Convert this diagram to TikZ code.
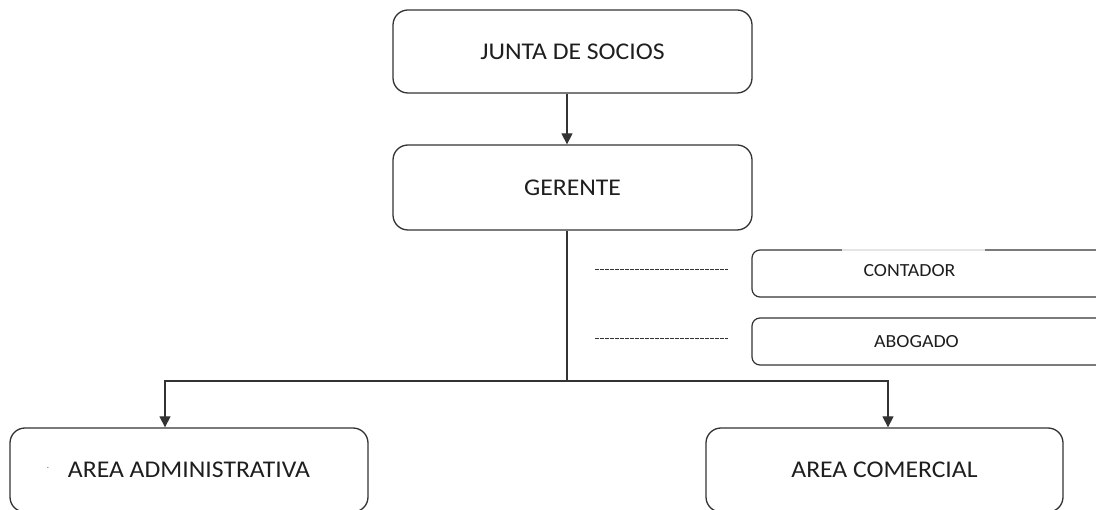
\documentclass[tikz,border=0pt]{standalone}
\usepackage{fontspec}
\setmainfont{Carlito}[FakeStretch=1.07]
\usetikzlibrary{arrows.meta}
\definecolor{ln}{HTML}{333333}
\definecolor{tx}{HTML}{1E1E1E}
\tikzset{
  bigbox/.style={draw=ln, line width=1.3pt, rounded corners=15pt, minimum width=359pt, inner sep=0pt, text=tx, font=\fontsize{24}{28}\selectfont},
  smallbox/.style={draw=ln, line width=1.2pt, rounded corners=8pt, minimum width=358pt, minimum height=47pt, inner sep=0pt},
  smalltext/.style={text=tx, inner sep=0pt, font=\fontsize{18.5}{22}\selectfont},
  conn/.style={draw=ln, line width=1.3pt},
  arr/.style={conn, -{Triangle[width=11pt,length=11pt]}},
  dashline/.style={draw=ln, line width=0.8pt, dash pattern=on 3.5pt off 1.5pt}
}
\begin{document}
\begin{tikzpicture}[x=1pt,y=-1pt]
\useasboundingbox (0,0) rectangle (1096,510);
% main boxes
\node[bigbox, minimum height=83pt] (junta) at (572.5,51.5) {JUNTA DE SOCIOS};
\node[bigbox, minimum height=85pt] (gerente) at (572.5,187.5) {GERENTE};
\node[bigbox, minimum width=358pt, minimum height=84pt] (admin) at (189,470) {AREA ADMINISTRATIVA};
\node[bigbox, minimum width=357pt, minimum height=84pt] (comercial) at (884.5,470) {AREA COMERCIAL};
\node[text=tx!60, inner sep=0pt, font=\fontsize{10}{12}\selectfont] (dot) at (48,468) {.};
% side boxes
\node[smallbox] (contadorbox) at (931,273.5) {};
\draw[gray!20, line width=1.6pt] (842,250) -- (985,250);
\node[smalltext] (contador) at (909.5,271) {CONTADOR};
\node[smallbox] (abogadobox) at (931,341.5) {};
\node[smalltext] (abogado) at (916.5,342) {ABOGADO};
% dashed lines
\coordinate (d1a) at (595,269.5);
\coordinate (d1b) at (728,269.5);
\coordinate (d2a) at (595,338);
\coordinate (d2b) at (728,338);
\draw[dashline] (d1a) -- (d1b);
\draw[dashline] (d2a) -- (d2b);
% connectors
\draw[arr] ([xshift=-5.5pt]junta.south) -- ([xshift=-5.5pt]gerente.north);
\coordinate (hub) at (567,381);
\draw[conn] ([xshift=-5.5pt]gerente.south) -- (hub);
\draw[arr] (hub) -| ([xshift=-24pt]admin.north);
\draw[arr] (hub) -| ([xshift=3.5pt]comercial.north);
\end{tikzpicture}
\end{document}
